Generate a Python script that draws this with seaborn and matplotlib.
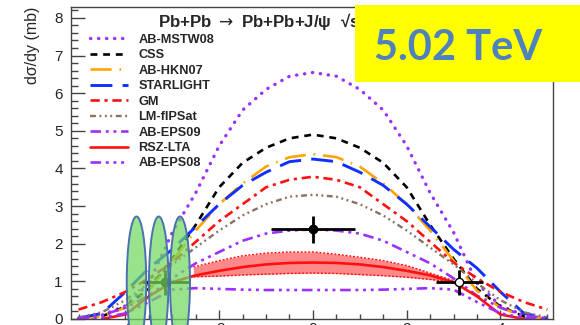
import matplotlib
matplotlib.use("Agg")
import matplotlib.pyplot as plt
import seaborn as sns
from matplotlib.patches import Ellipse, Rectangle
from matplotlib.ticker import MultipleLocator

# ---------------- data ----------------
rapidity = [-5.0, -4.5, -4.0, -3.5, -3.0, -2.5, -2.0, -1.5, -1.0, -0.5, 0.0,
            0.5, 1.0, 1.5, 2.0, 2.5, 3.0, 3.5, 4.0, 4.5, 5.0]
ab_mstw08 = [0.02, 0.10, 0.35, 0.95, 2.30, 3.35, 4.60, 5.55, 6.10, 6.45, 6.55,
             6.45, 6.10, 5.55, 4.60, 3.35, 2.30, 0.95, 0.35, 0.10, 0.02]
css = [0.01, 0.07, 0.33, 0.80, 1.60, 2.50, 3.50, 4.15, 4.55, 4.80, 4.90,
       4.80, 4.55, 4.15, 3.50, 2.50, 1.60, 0.80, 0.33, 0.07, 0.01]
ab_hkn07 = [0.01, 0.07, 0.30, 0.75, 1.55, 2.35, 3.05, 3.60, 4.05, 4.30, 4.38,
            4.30, 4.05, 3.60, 3.05, 2.35, 1.55, 0.75, 0.30, 0.07, 0.01]
starlight = [0.02, 0.15, 0.72, 1.35, 1.85, 2.45, 3.05, 3.55, 3.90, 4.18, 4.25,
             4.18, 3.90, 3.55, 3.05, 2.45, 1.85, 1.35, 0.72, 0.15, 0.02]
gm = [0.25, 0.45, 0.72, 1.08, 1.50, 2.05, 2.60, 3.05, 3.50, 3.70, 3.78,
      3.70, 3.50, 3.05, 2.60, 2.05, 1.50, 1.08, 0.72, 0.45, 0.25]
lm_fipsat = [0.04, 0.18, 0.50, 0.95, 1.45, 1.90, 2.35, 2.75, 3.05, 3.25, 3.30,
             3.25, 3.05, 2.75, 2.35, 1.90, 1.45, 0.95, 0.50, 0.18, 0.04]
ab_eps09 = [0.02, 0.10, 0.30, 0.62, 1.08, 1.48, 1.78, 2.08, 2.27, 2.35, 2.38,
            2.35, 2.27, 2.08, 1.78, 1.48, 1.08, 0.62, 0.30, 0.10, 0.02]
ab_eps08 = [0.00, 0.03, 0.15, 0.45, 0.78, 0.82, 0.80, 0.78, 0.77, 0.77, 0.77,
            0.77, 0.77, 0.78, 0.80, 0.82, 0.78, 0.45, 0.15, 0.03, 0.00]

rsz_x = [-4.5, -4.0, -3.5, -3.0, -2.5, -2.0, -1.5, -1.0, -0.5, 0.0,
         0.5, 1.0, 1.5, 2.0, 2.5, 3.0, 3.5, 4.0, 4.5]
rsz_lta = [0.00, 0.12, 0.60, 0.98, 1.16, 1.28, 1.38, 1.45, 1.49, 1.50,
           1.49, 1.45, 1.38, 1.28, 1.16, 0.98, 0.60, 0.12, 0.00]
band_x = [-2.55, -2.0, -1.5, -1.0, -0.5, 0.0, 0.5, 1.0, 1.5, 2.0, 2.5, 3.1]
band_hi = [1.38, 1.55, 1.68, 1.75, 1.78, 1.78, 1.72, 1.64, 1.55, 1.42, 1.22, 0.98]
band_lo = [1.12, 1.14, 1.17, 1.19, 1.21, 1.22, 1.21, 1.18, 1.15, 1.11, 1.05, 0.97]

mid_x, mid_y, mid_xerr, mid_yerr = [0.0], [2.38], [0.9], [0.35]
fwd_x, fwd_y, fwd_xerr, fwd_yerr = [-3.15], [0.98], [0.5], [0.33]
bwd_x, bwd_y, bwd_xerr, bwd_yerr = [3.12], [0.98], [0.5], [0.33]

x_ticks = [-4, -2, 0, 2, 4]
y_ticks = [0, 1, 2, 3, 4, 5, 6, 7, 8]

# ---------------- style ----------------
sns.set_theme(style="white")
plt.rcParams['font.family'] = ['Liberation Sans', 'DejaVu Sans']
plt.rcParams['axes.unicode_minus'] = False

W, H = 580, 325
fig = plt.figure(figsize=(W / 100, H / 100), dpi=100)
ax = fig.add_axes([71 / W, 6 / H, 482 / W, 312 / H])

violet = '#9b30ff'
series = [
    ("AB-MSTW08", ab_mstw08, violet, (0, (0.1, 2.3)), 2.4, 'round'),
    ("CSS", css, 'black', (0, (2.6, 2.2)), 1.9, 'butt'),
    ("AB-HKN07", ab_hkn07, '#ffa500', (0, (8, 3, 0.6, 3)), 1.9, 'butt'),
    ("STARLIGHT", starlight, '#1030ff', (0, (7.5, 3.5)), 2.1, 'butt'),
    ("GM", gm, '#ff1010', (0, (3.5, 1.8, 1.2, 1.8)), 1.9, 'butt'),
    ("LM-fIPSat", lm_fipsat, '#8c7060', (0, (2.5, 1.5, 0.8, 1.5, 0.8, 1.5, 0.8, 1.5)), 1.7, 'butt'),
    ("AB-EPS09", ab_eps09, violet, (0, (4, 1.8, 1.1, 1.8, 1.1, 1.8)), 1.9, 'butt'),
]

handles = {}
for name, vals, color, ls, lw, cap in series:
    sns.lineplot(x=rapidity, y=vals, ax=ax, color=color, linestyle=ls,
                 linewidth=lw, dash_capstyle=cap, label=name, zorder=2)
    handles[name] = ax.lines[-1]

# RSZ-LTA band + central line
ax.fill_between(band_x, band_lo, band_hi, color='#ff6a6a', alpha=0.8,
                linewidth=0, zorder=1.5)
sns.lineplot(x=band_x, y=band_hi, ax=ax, color='#ff1010', linestyle=(0, (1.5, 1.2)),
             linewidth=1.0, zorder=1.6)
sns.lineplot(x=band_x, y=band_lo, ax=ax, color='#ff1010', linestyle=(0, (1.5, 1.2)),
             linewidth=1.0, zorder=1.6)
sns.lineplot(x=rsz_x, y=rsz_lta, ax=ax, color='#ff1010', linestyle='-',
             linewidth=1.9, label="RSZ-LTA", zorder=2)
handles["RSZ-LTA"] = ax.lines[-1]

sns.lineplot(x=rapidity, y=ab_eps08, ax=ax, color=violet,
             linestyle=(0, (4, 1.8, 1.1, 1.8, 1.1, 1.8, 1.1, 1.8)),
             linewidth=1.9, label="AB-EPS08", zorder=2)
handles["AB-EPS08"] = ax.lines[-1]

# data points
ax.errorbar(mid_x, mid_y, xerr=mid_xerr, yerr=mid_yerr, fmt='o', color='black',
            ms=6, elinewidth=2, capsize=0, zorder=4)
ax.errorbar(fwd_x, fwd_y, xerr=fwd_xerr, yerr=fwd_yerr, fmt='o', color='black',
            ms=6, elinewidth=2, capsize=0, zorder=4)
ax.errorbar(bwd_x, bwd_y, xerr=bwd_xerr, yerr=bwd_yerr, fmt='o', color='black',
            mfc='white', mec='black', ms=6, elinewidth=2, capsize=0, zorder=4)

# axes
ax.set_xlim(-5.16, 5.12)
ax.set_ylim(0, 8.29)
ax.set_xticks(x_ticks)
ax.set_xticklabels([str(t) for t in x_ticks])
ax.set_yticks(y_ticks)
ax.set_yticklabels([str(t) for t in y_ticks])
ax.xaxis.set_minor_locator(MultipleLocator(0.5))
ax.yaxis.set_minor_locator(MultipleLocator(0.2))
ax.set_xlabel('')
ax.set_ylabel('')
tick_col = '#444444'
ax.tick_params(axis='both', which='both', direction='in', color=tick_col,
               bottom=True, left=True, top=False, right=False, width=1.0)
ax.tick_params(axis='y', which='major', length=10, labelsize=11, pad=6)
ax.tick_params(axis='y', which='minor', length=5)
ax.tick_params(axis='x', which='major', length=6.8, labelsize=11, pad=2)
ax.tick_params(axis='x', which='minor', length=3.4)
for s in ax.spines.values():
    s.set_color(tick_col)
    s.set_linewidth(1.0)

order = ["AB-MSTW08", "CSS", "AB-HKN07", "STARLIGHT", "GM", "LM-fIPSat",
         "AB-EPS09", "RSZ-LTA", "AB-EPS08"]
ax.legend(handles=[handles[k] for k in order], labels=order, loc='upper left',
          bbox_to_anchor=(0.039, 0.914), frameon=False,
          prop={'weight': 'bold', 'size': 9.2}, handlelength=3.0,
          handletextpad=0.8, labelspacing=0.27, borderpad=0, borderaxespad=0)

ax.text(0.18, 0.936,
        'Pb+Pb $\\rightarrow$ Pb+Pb+J/ψ  √s$_{\\mathregular{NN}}$ = 5.02 TeV',
        transform=ax.transAxes, fontsize=12.2, fontweight='bold', ha='left',
        va='baseline', zorder=5)

fig.text(33 / W, 1 - 7 / H, 'dσ/dy (mb)', rotation=90, ha='center', va='top',
         fontsize=11.5)

# green ellipses overlay
for cx, w in [(136.5, 19.5), (158.7, 19.5), (180, 20)]:
    fig.add_artist(Ellipse((cx / W, 1 - 282 / H), w / W, 131 / H,
                           transform=fig.transFigure,
                           facecolor=(0.45, 0.85, 0.38, 0.72),
                           edgecolor='#4a72b0', linewidth=1.4, zorder=3))

# yellow box with energy label
fig.add_artist(Rectangle((355 / W, 1 - 82 / H), 225 / W, 77 / H,
                         transform=fig.transFigure, facecolor='#ffff00',
                         edgecolor='none', zorder=5))
fig.text(458 / W, 1 - 60 / H, '5.02 TeV', ha='center', va='baseline',
         fontsize=30, fontweight='bold', color='#4f81bd', family='Lato',
         zorder=6)

fig.savefig('out.png', dpi=100)
